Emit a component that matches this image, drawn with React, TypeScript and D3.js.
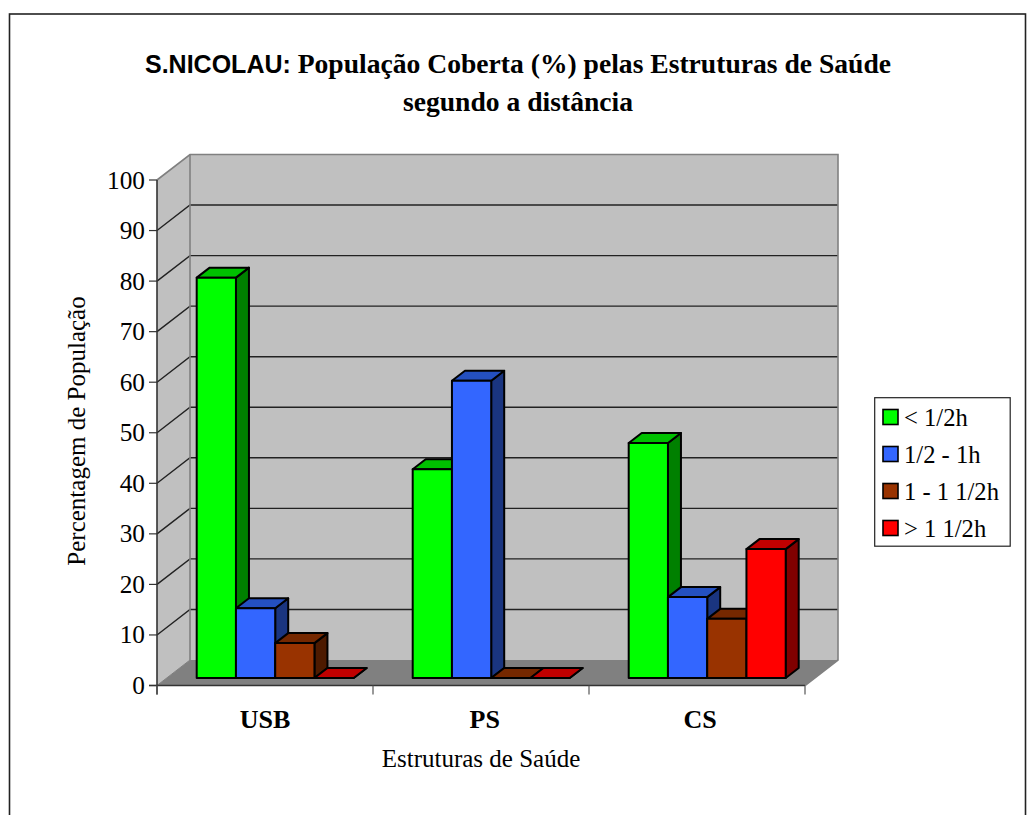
import React from "react";
import * as d3 from "d3";

const categories = ["USB", "PS", "CS"];
const seriesNames = ["< 1/2h", "1/2 - 1h", "1 - 1 1/2h", "> 1 1/2h"];
const under30 = [79.2, 41.3, 46.5];
const from30to60 = [13.8, 58.8, 16.0];
const from60to90 = [6.9, 0, 11.7];
const over90 = [0, 0, 25.5];
const seriesValues = [under30, from30to60, from60to90, over90];
const yTicks = d3.range(0, 101, 10);
const labelNudge = [0, 3.7, 3];
const frontColors = ["#00ff00", "#3366ff", "#993300", "#ff0000"];
const topColors = ["#00c000", "#2450c0", "#752800", "#c00000"];
const sideColors = ["#008000", "#1a3580", "#4d1a00", "#800000"];

const serif = "'Liberation Serif', 'Times New Roman', serif";
const sans = "'Liberation Sans', Arial, sans-serif";

const DX = 33, DY = -25.5;
const BDX = 13, BDY = -10;

export default function App() {
  const y = d3.scaleLinear().domain([0, 100]).range([685.5, 180]);
  const x = d3.scaleBand().domain(categories).range([157, 805]);
  const groupInset = 39.7;
  const barW = 39.25;
  const barBase = 678;
  const h = (v: number) => (v / 100) * (y(0) - y(100));
  const pts = (p: number[][]) => p.map((q) => q.join(",")).join(" ");
  const line = "#000";

  return (
    <svg width={1028} height={815} style={{ position: "absolute", left: 0, top: 0, display: "block" }}>
      <rect x={9.5} y={14} width={1016} height={815} fill="#fff" stroke="#222" strokeWidth={1.6} />

      <text x={518} y={73} textAnchor="middle" fontFamily={serif} fontWeight="bold" fontSize={27.6} fill="#000">
        <tspan fontFamily={sans} fontSize={25}>S.NICOLAU:</tspan> População Coberta (%) pelas Estruturas de Saúde
      </text>
      <text x={518} y={111} textAnchor="middle" fontFamily={serif} fontWeight="bold" fontSize={27.6} fill="#000">
        segundo a distância
      </text>

      {/* walls */}
      <polygon points={pts([[157, y(100)], [157 + DX, y(100) + DY], [157 + DX, y(0) + DY], [157, y(0)]])} fill="#c0c0c0" />
      <rect x={157 + DX} y={y(100) + DY} width={805 - 157} height={y(0) - y(100)} fill="#c0c0c0" />
      <polygon points={pts([[157, y(0)], [805, y(0)], [805 + DX, y(0) + DY], [157 + DX, y(0) + DY]])} fill="#808080" />

      {yTicks.filter((t) => t > 0 && t < 100).map((t) => (
        <polyline key={t} points={pts([[157, y(t)], [157 + DX, y(t) + DY], [805 + DX, y(t) + DY]])} fill="none" stroke="#222" strokeWidth={1.4} />
      ))}
      <polyline points={pts([[157, y(100)], [157 + DX, y(100) + DY], [805 + DX, y(100) + DY], [805 + DX, y(0) + DY], [805, y(0)]])} fill="none" stroke="#808080" strokeWidth={1.6} />
      <line x1={157 + DX} x2={157 + DX} y1={y(100) + DY} y2={y(0) + DY} stroke="#808080" strokeWidth={1.6} />
      <line x1={157} x2={157 + DX} y1={y(0)} y2={y(0) + DY} stroke="#808080" strokeWidth={1} />

      {/* bars */}
      {categories.map((c, ci) => {
        const gx = x(c)! + groupInset;
        return (
          <g key={c}>
            {seriesValues.map((vals, si) => {
              const bx = gx + si * barW;
              const top = barBase - h(vals[ci]);
              return (
                <g key={si} stroke={line} strokeWidth={2} strokeLinejoin="round">
                  <polygon points={pts([[bx + barW, top], [bx + barW + BDX, top + BDY], [bx + barW + BDX, barBase + BDY], [bx + barW, barBase]])} fill={sideColors[si]} />
                  <polygon points={pts([[bx, top], [bx + BDX, top + BDY], [bx + barW + BDX, top + BDY], [bx + barW, top]])} fill={topColors[si]} />
                  {vals[ci] > 0 && <rect x={bx} y={top} width={barW} height={barBase - top} fill={frontColors[si]} />}
                </g>
              );
            })}
          </g>
        );
      })}

      {/* axes */}
      <line x1={157} x2={157} y1={y(100)} y2={y(0) + 9} stroke="#333" strokeWidth={1.6} />
      <line x1={149} x2={805} y1={y(0)} y2={y(0)} stroke="#333" strokeWidth={1.6} />
      {yTicks.map((t) => (
        <g key={t}>
          <line x1={149} x2={157} y1={y(t)} y2={y(t)} stroke="#333" strokeWidth={1.2} />
          <text x={145} y={y(t) + 8.5} textAnchor="end" fontFamily={serif} fontSize={25.3} fill="#000">{t}</text>
        </g>
      ))}
      {[157, 373, 589, 805].map((tx) => (
        <line key={tx} x1={tx} x2={tx} y1={y(0)} y2={y(0) + 9} stroke="#555" strokeWidth={1.2} />
      ))}
      {categories.map((c, i) => (
        <text key={c} x={x(c)! + x.bandwidth() / 2 + labelNudge[i]} y={727.5} textAnchor="middle" fontFamily={serif} fontWeight="bold" fontSize={26} fill="#000">{c}</text>
      ))}
      <text x={481} y={767} textAnchor="middle" fontFamily={serif} fontSize={25} fill="#000">Estruturas de Saúde</text>
      <text transform="translate(85,431) rotate(-90)" textAnchor="middle" fontFamily={serif} fontSize={25} fill="#000">Percentagem de População</text>

      {/* legend */}
      <rect x={874.7} y={397.7} width={135.5} height={148.5} fill="#fff" stroke="#222" strokeWidth={1.2} />
      {seriesNames.map((n, i) => (
        <g key={n}>
          <rect x={883} y={409.5 + i * 37} width={15} height={15} fill={frontColors[i]} stroke="#000" strokeWidth={1.6} />
          <text x={904} y={425.5 + i * 37} fontFamily={serif} fontSize={24.6} fill="#000">{n}</text>
        </g>
      ))}
    </svg>
  );
}
